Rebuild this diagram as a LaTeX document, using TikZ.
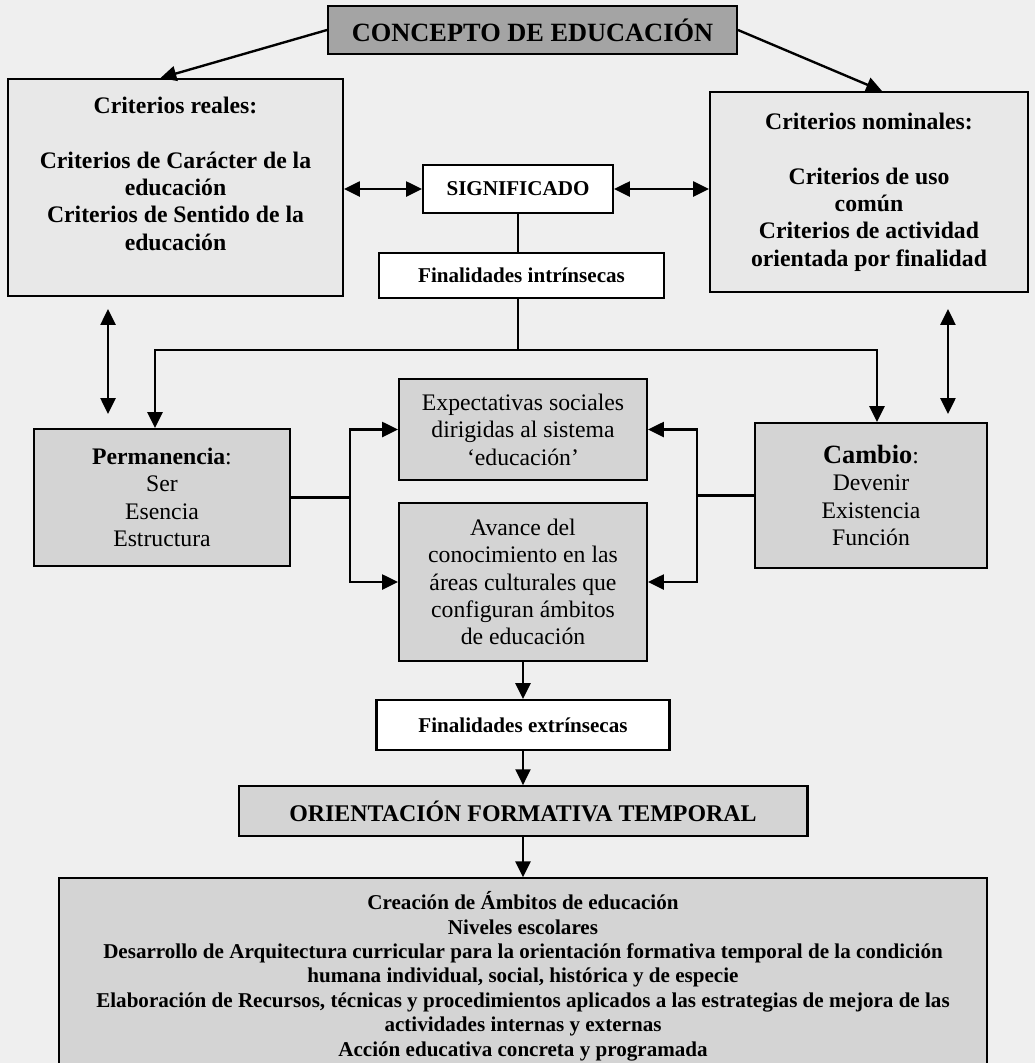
\documentclass[tikz,border=0pt]{standalone}
\usepackage{fontspec}
\setmainfont{Liberation Serif}
\usetikzlibrary{positioning,arrows.meta}
\definecolor{fondo}{HTML}{EFEFEF}
\definecolor{grisclaro}{HTML}{E8E8E8}
\definecolor{grismedio}{HTML}{D4D4D4}
\definecolor{grisoscuro}{HTML}{A4A4A4}

\begin{document}
\begin{tikzpicture}[x=0.02cm, y=-0.02cm, >={Triangle[length=9pt,width=8.5pt]},
    every node/.style={draw, line width=1.2pt, align=center, inner sep=2pt},
    caja/.style={fill=grismedio, font=\fontsize{13.5}{15.6}\selectfont},
    criterio/.style={fill=grisclaro, font=\bfseries\fontsize{13.5}{15.6}\selectfont},
    etiqueta/.style={fill=white, font=\bfseries\fontsize{12}{14}\selectfont, minimum height=0.96cm},
    flecha/.style={line width=1.35pt}]
    \fill[fondo] (0,0) rectangle (1035,1063);
    \useasboundingbox (0,0) rectangle (1035,1063);

    \node[fill=grisoscuro, font=\bfseries\fontsize{15}{18}\selectfont, minimum width=8.18cm, minimum height=0.96cm] (concepto) at (532.5,30) {CONCEPTO DE EDUCACIÓN};
    \node[criterio, minimum width=6.7cm, minimum height=4.34cm] (reales) at (175.5,187.5) {Criterios reales:\\ \strut\\ Criterios de Carácter de la\\ educación\\ Criterios de Sentido de la\\ educación\\[-4.5pt] \strut};
    \node[criterio, minimum width=6.36cm, minimum height=4cm] (nominales) at (869,192) {Criterios nominales:\\ \strut\\ Criterios de uso\\ común\\ Criterios de actividad\\ orientada por finalidad};
    \node[etiqueta, minimum width=3.8cm] (significado) at (518,189) {SIGNIFICADO};
    \node[etiqueta, minimum width=5.7cm, minimum height=0.9cm] (intrinsecas) at (521.5,275.5) {Finalidades intrínsecas};
    \node[caja, minimum width=5.12cm, minimum height=2.74cm] (permanencia) at (162,497.5) {\textbf{Permanencia}:\\ Ser\\ Esencia\\ Estructura};
    \node[caja, minimum width=4.64cm, minimum height=2.9cm] (cambio) at (871,495.5) {\textbf{\fontsize{15}{15.6}\selectfont Cambio}:\\ Devenir\\ Existencia\\ Función};
    \node[caja, minimum width=4.96cm, minimum height=2.02cm] (expectativas) at (523,429.5) {Expectativas sociales\\ dirigidas al sistema\\ ‘educación’};
    \node[caja, minimum width=4.96cm, minimum height=3.16cm] (avance) at (523,582) {Avance del\\ conocimiento en las\\ áreas culturales que\\ configuran ámbitos\\ de educación};
    \node[etiqueta, minimum width=5.86cm, minimum height=1cm, below=0.74cm of avance] (extrinsecas) {Finalidades extrínsecas};
    \node[fill=grismedio, font=\bfseries\fontsize{13.6}{16}\selectfont, minimum width=11.38cm, minimum height=1cm, below=0.68cm of extrinsecas] (orientacion) {ORIENTACIÓN FORMATIVA TEMPORAL};
    \node[fill=grismedio, font=\bfseries\fontsize{12}{13.9}\selectfont, minimum width=18.58cm, minimum height=3.92cm, below=0.8cm of orientacion] (acciones) {Creación de Ámbitos de educación\\ Niveles escolares\\ Desarrollo de Arquitectura curricular para la orientación formativa temporal de la condición\\ humana individual, social, histórica y de especie\\ Elaboración de Recursos, técnicas y procedimientos aplicados a las estrategias de mejora de las\\ actividades internas y externas\\ Acción educativa concreta y programada};

    \draw[flecha, ->] (concepto.west) -- ([xshift=-0.3cm]reales.north);
    \draw[flecha, ->] (concepto.east) -- ([xshift=0.26cm]nominales.north);
    \draw[flecha, <->] (significado.west -| reales.east) -- (significado.west);
    \draw[flecha, <->] (significado.east) -- (significado.east -| nominales.west);
    \draw[flecha] (significado.south) -- (significado.south |- intrinsecas.north);

    % reparto hacia permanencia y cambio
    \coordinate (reparto) at (518,350);
    \draw[flecha] (intrinsecas.south -| significado.south) -- (reparto);
    \draw[flecha, ->] (reparto) -| ([xshift=-0.14cm]permanencia.north);
    \draw[flecha, ->] (reparto) -| ([xshift=0.12cm]cambio.north);
    \draw[flecha, <->, shorten <=0.24cm, shorten >=0.28cm] ([xshift=-1.35cm]reales.south) -- ([xshift=-1.35cm]reales.south |- permanencia.north);
    \draw[flecha, <->, shorten <=0.32cm, shorten >=0.16cm] ([xshift=1.58cm]nominales.south) -- ([xshift=1.58cm]nominales.south |- cambio.north);

    \draw[flecha, ->] (permanencia.east) -- ++(59,0) |- (expectativas.west);
    \draw[flecha, ->] (permanencia.east) -- ++(59,0) |- (avance.west);
    \draw[flecha, ->] (cambio.west) -- ++(-57,0) |- (expectativas.east);
    \draw[flecha, ->] (cambio.west) -- ++(-57,0) |- (avance.east);

    \draw[flecha, ->] (avance) -- (extrinsecas);
    \draw[flecha, ->] (extrinsecas) -- (orientacion);
    \draw[flecha, ->] (orientacion) -- (acciones);
\end{tikzpicture}
\end{document}
